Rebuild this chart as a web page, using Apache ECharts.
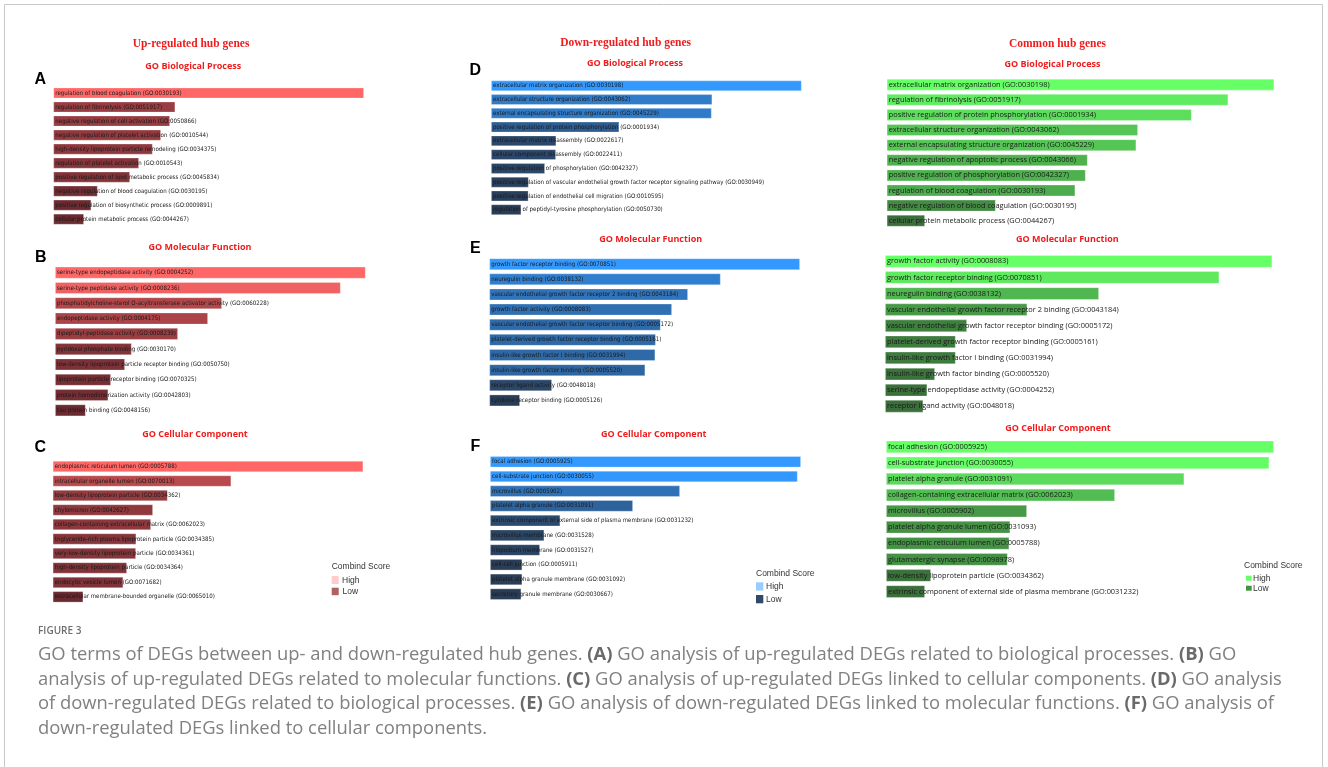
<!DOCTYPE html>
<html>
<head>
<meta charset="utf-8">
<script src="https://cdn.jsdelivr.net/npm/echarts@6/dist/echarts.min.js"></script>
<style>
  html, body { margin: 0; padding: 0; background: #ffffff; }
  #chart { width: 1328px; height: 767px; }
</style>
</head>
<body>
<div id="chart"></div>
<script>
// ---------- Up-regulated hub genes ----------
const upBPTerms = [
  'regulation of blood coagulation (GO:0030193)',
  'regulation of fibrinolysis (GO:0051917)',
  'negative regulation of cell activation (GO:0050866)',
  'negative regulation of platelet activation (GO:0010544)',
  'high-density lipoprotein particle remodeling (GO:0034375)',
  'regulation of platelet activation (GO:0010543)',
  'positive regulation of lipid metabolic process (GO:0045834)',
  'negative regulation of blood coagulation (GO:0030195)',
  'positive regulation of biosynthetic process (GO:0009891)',
  'cellular protein metabolic process (GO:0044267)'
];
const upBPScores = [310.7, 122, 116.7, 107.7, 99.4, 85.7, 76.7, 44.4, 38, 30.7];

const upMFTerms = [
  'serine-type endopeptidase activity (GO:0004252)',
  'serine-type peptidase activity (GO:0008236)',
  'phosphatidylcholine-sterol O-acyltransferase activator activity (GO:0060228)',
  'endopeptidase activity (GO:0004175)',
  'dipeptidyl-peptidase activity (GO:0008239)',
  'pyridoxal phosphate binding (GO:0030170)',
  'low-density lipoprotein particle receptor binding (GO:0050750)',
  'lipoprotein particle receptor binding (GO:0070325)',
  'protein homodimerization activity (GO:0042803)',
  'tau protein binding (GO:0048156)'
];
const upMFScores = [310.7, 285.7, 167, 153, 123, 76.7, 70, 56, 53.3, 30.7];

const upCCTerms = [
  'endoplasmic reticulum lumen (GO:0005788)',
  'intracellular organelle lumen (GO:0070013)',
  'low-density lipoprotein particle (GO:0034362)',
  'chylomicron (GO:0042627)',
  'collagen-containing extracellular matrix (GO:0062023)',
  'triglyceride-rich plasma lipoprotein particle (GO:0034385)',
  'very-low-density lipoprotein particle (GO:0034361)',
  'high-density lipoprotein particle (GO:0034364)',
  'endocytic vesicle lumen (GO:0071682)',
  'extracellular membrane-bounded organelle (GO:0065010)'
];
const upCCScores = [310.6, 178.6, 115, 100.3, 98.3, 83.6, 83.3, 74.3, 70.6, 30.6];

// ---------- Down-regulated hub genes ----------
const downBPTerms = [
  'extracellular matrix organization (GO:0030198)',
  'extracellular structure organization (GO:0043062)',
  'external encapsulating structure organization (GO:0045229)',
  'positive regulation of protein phosphorylation (GO:0001934)',
  'extracellular matrix disassembly (GO:0022617)',
  'cellular component disassembly (GO:0022411)',
  'positive regulation of phosphorylation (GO:0042327)',
  'positive regulation of vascular endothelial growth factor receptor signaling pathway (GO:0030949)',
  'positive regulation of endothelial cell migration (GO:0010595)',
  'regulation of peptidyl-tyrosine phosphorylation (GO:0050730)'
];
const downBPScores = [310.7, 221.3, 220.7, 128.3, 65.3, 65, 54, 37.7, 37.5, 30.3];

const downMFTerms = [
  'growth factor receptor binding (GO:0070851)',
  'neuregulin binding (GO:0038132)',
  'vascular endothelial growth factor receptor 2 binding (GO:0043184)',
  'growth factor activity (GO:0008083)',
  'vascular endothelial growth factor receptor binding (GO:0005172)',
  'platelet-derived growth factor receptor binding (GO:0005161)',
  'insulin-like growth factor I binding (GO:0031994)',
  'insulin-like growth factor binding (GO:0005520)',
  'receptor ligand activity (GO:0048018)',
  'cytokine receptor binding (GO:0005126)'
];
const downMFScores = [310.7, 231.4, 198.7, 182.7, 171.4, 166.5, 166, 156, 62.7, 30.7];

const downCCTerms = [
  'focal adhesion (GO:0005925)',
  'cell-substrate junction (GO:0030055)',
  'microvillus (GO:0005902)',
  'platelet alpha granule (GO:0031091)',
  'extrinsic component of external side of plasma membrane (GO:0031232)',
  'microvillus membrane (GO:0031528)',
  'filopodium membrane (GO:0031527)',
  'cell-cell junction (GO:0005911)',
  'platelet alpha granule membrane (GO:0031092)',
  'secretory granule membrane (GO:0030667)'
];
const downCCScores = [311, 307.7, 190, 143, 70.3, 54.3, 50, 32.3, 32.3, 31.3];

// ---------- Common hub genes ----------
const commonBPTerms = [
  'extracellular matrix organization (GO:0030198)',
  'regulation of fibrinolysis (GO:0051917)',
  'positive regulation of protein phosphorylation (GO:0001934)',
  'extracellular structure organization (GO:0043062)',
  'external encapsulating structure organization (GO:0045229)',
  'negative regulation of apoptotic process (GO:0043066)',
  'positive regulation of phosphorylation (GO:0042327)',
  'regulation of blood coagulation (GO:0030193)',
  'negative regulation of blood coagulation (GO:0030195)',
  'cellular protein metabolic process (GO:0044267)'
];
const commonBPScores = [387.6, 341.6, 305, 251.3, 249.6, 201, 199, 188.6, 109, 38.3];

const commonMFTerms = [
  'growth factor activity (GO:0008083)',
  'growth factor receptor binding (GO:0070851)',
  'neuregulin binding (GO:0038132)',
  'vascular endothelial growth factor receptor 2 binding (GO:0043184)',
  'vascular endothelial growth factor receptor binding (GO:0005172)',
  'platelet-derived growth factor receptor binding (GO:0005161)',
  'insulin-like growth factor I binding (GO:0031994)',
  'insulin-like growth factor binding (GO:0005520)',
  'serine-type endopeptidase activity (GO:0004252)',
  'receptor ligand activity (GO:0048018)'
];
const commonMFScores = [387.3, 334.3, 214, 142.3, 82, 70.7, 70.7, 50, 42.3, 38.3];

const commonCCTerms = [
  'focal adhesion (GO:0005925)',
  'cell-substrate junction (GO:0030055)',
  'platelet alpha granule (GO:0031091)',
  'collagen-containing extracellular matrix (GO:0062023)',
  'microvillus (GO:0005902)',
  'platelet alpha granule lumen (GO:0031093)',
  'endoplasmic reticulum lumen (GO:0005788)',
  'glutamatergic synapse (GO:0098978)',
  'low-density lipoprotein particle (GO:0034362)',
  'extrinsic component of external side of plasma membrane (GO:0031232)'
];
const commonCCScores = [388, 383.3, 298.3, 229, 141, 124.3, 123.3, 121.7, 45, 39];

// Colour ramps (low score -> high score) per column
const redRamp = ['#59232a', '#ff6666'];
const blueRamp = ['#293344', '#3399ff'];
const greenRamp = ['#355e35', '#66ff66'];

const narrowFont = "'Liberation Sans Narrow', 'DejaVu Sans Condensed', 'Open Sans', sans-serif";
const wideFont = "'Open Sans', sans-serif";

// Panel layout: grid box in pixels, data, colours, label font
const panels = [
  { terms: upBPTerms, scores: upBPScores, ramp: redRamp, box: [53.3, 86, 310.7, 140.2], font: narrowFont, size: 6.1 },
  { terms: upMFTerms, scores: upMFScores, ramp: redRamp, box: [55, 265, 310.7, 153], font: narrowFont, size: 6.1 },
  { terms: upCCTerms, scores: upCCScores, ramp: redRamp, box: [52.7, 459.3, 310.6, 144.8], font: narrowFont, size: 6.1 },
  { terms: downBPTerms, scores: downBPScores, ramp: blueRamp, box: [491, 78.9, 310.7, 137.7], font: narrowFont, size: 6.1 },
  { terms: downMFTerms, scores: downMFScores, ramp: blueRamp, box: [489.3, 256.6, 310.7, 151.4], font: narrowFont, size: 6.1 },
  { terms: downCCTerms, scores: downCCScores, ramp: blueRamp, box: [490, 454.4, 311, 147.1], font: narrowFont, size: 6.1 },
  { terms: commonBPTerms, scores: commonBPScores, ramp: greenRamp, box: [886.7, 77.1, 387.6, 151.2], font: wideFont, size: 7.4 },
  { terms: commonMFTerms, scores: commonMFScores, ramp: greenRamp, box: [885, 253.3, 387.3, 161], font: wideFont, size: 7.4 },
  { terms: commonCCTerms, scores: commonCCScores, ramp: greenRamp, box: [886, 438.8, 388, 160.8], font: wideFont, size: 7.4 }
];

const grids = [], xAxes = [], yAxes = [], series = [], visualMaps = [];
panels.forEach((p, i) => {
  const maxScore = Math.max(...p.scores);
  grids.push({ left: p.box[0], top: p.box[1], width: p.box[2], height: p.box[3], containLabel: false });
  xAxes.push({ type: 'value', gridIndex: i, min: 0, max: maxScore, show: false });
  yAxes.push({ type: 'category', gridIndex: i, data: p.terms, inverse: true, show: false });
  series.push({
    type: 'bar',
    xAxisIndex: i,
    yAxisIndex: i,
    data: p.scores,
    barCategoryGap: '22%',
    itemStyle: { borderColor: 'rgba(255,255,255,0.35)', borderWidth: 0.8 },
    label: {
      show: true,
      position: 'insideLeft',
      distance: 2,
      formatter: '{b}',
      color: '#1a1a1a',
      fontFamily: p.font,
      fontSize: p.size
    },
    emphasis: { disabled: true },
    animation: false
  });
  visualMaps.push({
    type: 'continuous',
    show: false,
    seriesIndex: i,
    dimension: 0,
    min: 0,
    max: maxScore,
    inRange: { color: p.ramp }
  });
});

// Text helpers for headings, panel letters and legends
function txt(x, y, text, font, fill, align) {
  return {
    type: 'text', x: x, y: y, silent: true,
    style: { text: text, font: font, fill: fill, align: align || 'left', verticalAlign: 'middle' }
  };
}
function swatch(x, y, w, h, fill) {
  return { type: 'rect', silent: true, shape: { x: x, y: y, width: w, height: h }, style: { fill: fill } };
}

const headFont = "bold 11.5px 'Liberation Serif', 'Times New Roman', serif";
const sectFont = "bold 9px 'Open Sans', sans-serif";
const letterFont = "bold 16px 'Liberation Sans', Arial, sans-serif";
const legFont = "8.5px 'Liberation Sans', Arial, sans-serif";
const red = '#ee1c1c';

const graphics = [
  // outer frame
  { type: 'rect', silent: true, shape: { x: 4.5, y: 4.5, width: 1318, height: 775 }, style: { fill: 'none', stroke: '#c8c8c8', lineWidth: 1 } },

  // column headings
  txt(191, 44, 'Up-regulated hub genes', headFont, red, 'center'),
  txt(625.7, 43.3, 'Down-regulated hub genes', headFont, red, 'center'),
  txt(1057.5, 44, 'Common hub genes', headFont, red, 'center'),

  // section titles
  txt(193.3, 66.7, 'GO Biological Process', sectFont, red, 'center'),
  txt(200, 247.3, 'GO Molecular Function', sectFont, red, 'center'),
  txt(195, 434.7, 'GO Cellular Component', sectFont, red, 'center'),
  txt(635, 63.3, 'GO Biological Process', sectFont, red, 'center'),
  txt(650.7, 239.3, 'GO Molecular Function', sectFont, red, 'center'),
  txt(653.7, 434.7, 'GO Cellular Component', sectFont, red, 'center'),
  txt(1052.5, 64, 'GO Biological Process', sectFont, red, 'center'),
  txt(1067.3, 239, 'GO Molecular Function', sectFont, red, 'center'),
  txt(1058, 428.3, 'GO Cellular Component', sectFont, red, 'center'),

  // panel letters
  txt(34.5, 79.5, 'A', letterFont, '#000'),
  txt(35, 258, 'B', letterFont, '#000'),
  txt(34.5, 448, 'C', letterFont, '#000'),
  txt(469.5, 71, 'D', letterFont, '#000'),
  txt(470, 248.5, 'E', letterFont, '#000'),
  txt(470.5, 447, 'F', letterFont, '#000'),

  // legends
  txt(331.7, 567, 'Combind Score', legFont, '#333'),
  swatch(331.7, 576, 7, 8, '#ffcccc'),
  txt(342, 580.2, 'High', legFont, '#333'),
  swatch(331.7, 587.7, 7, 7.5, '#b05f62'),
  txt(342.5, 591.6, 'Low', legFont, '#333'),

  txt(756, 573.7, 'Combind Score', legFont, '#333'),
  swatch(756, 582.3, 7.3, 8.3, '#99ccff'),
  txt(766, 586.6, 'High', legFont, '#333'),
  swatch(756, 595, 7.3, 8.3, '#2e4a66'),
  txt(766, 599.3, 'Low', legFont, '#333'),

  txt(1244, 565.7, 'Combind Score', legFont, '#333'),
  swatch(1246, 575.7, 5.7, 5, '#66ff66'),
  txt(1253, 578.4, 'High', legFont, '#333'),
  swatch(1246, 585.7, 5.7, 5, '#409640'),
  txt(1253, 588.4, 'Low', legFont, '#333'),

  // caption
  txt(38, 631, 'FIGURE 3', "600 10px 'Open Sans', sans-serif", '#6e6e6e')
];

const captionLines = [
  'GO terms of DEGs between up- and down-regulated hub genes. {b|(A)} GO analysis of up-regulated DEGs related to biological processes. {b|(B)} GO',
  'analysis of up-regulated DEGs related to molecular functions. {b|(C)} GO analysis of up-regulated DEGs linked to cellular components. {b|(D)} GO analysis',
  'of down-regulated DEGs related to biological processes. {b|(E)} GO analysis of down-regulated DEGs linked to molecular functions. {b|(F)} GO analysis of',
  'down-regulated DEGs linked to cellular components.'
];
captionLines.forEach((line, k) => {
  graphics.push({
    type: 'text', x: 38, y: 655 + k * 24.5, silent: true,
    style: {
      text: line,
      font: "18.4px 'Open Sans', sans-serif",
      fill: '#808080',
      align: 'left',
      verticalAlign: 'middle',
      rich: { b: { font: "bold 18.4px 'Open Sans', sans-serif", fill: '#6a6a6a' } }
    }
  });
});

const chart = echarts.init(document.getElementById('chart'), null, { renderer: 'canvas' });
chart.setOption({
  backgroundColor: '#ffffff',
  animation: false,
  grid: grids,
  xAxis: xAxes,
  yAxis: yAxes,
  visualMap: visualMaps,
  series: series,
  graphic: graphics
});
</script>
</body>
</html>
